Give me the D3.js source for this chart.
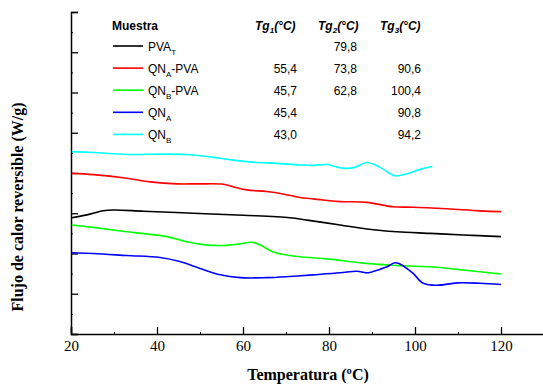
<!DOCTYPE html>
<html>
<head>
<meta charset="utf-8">
<script src="https://cdn.jsdelivr.net/npm/d3@7"></script>
<style>
  body { margin: 0; background: #fff; }
</style>
</head>
<body>
<script>
// curves: [temperature (ºC), reversible heat flow (offset units)]
const pvaT = [[20.2,2.89],[23.7,2.96],[27.5,3.06],[29.8,3.08],[36.8,3.05],[48.4,3.00],[60.1,2.95],[70.9,2.89],[74.9,2.83],[82.6,2.71],[88.8,2.61],[95.8,2.54],[103.5,2.50],[111.2,2.46],[120,2.42]];
const qnaPva = [[20.2,3.99],[25.2,3.96],[33,3.87],[38.4,3.78],[44.6,3.73],[50,3.73],[55.4,3.72],[57.7,3.66],[60.9,3.58],[65.5,3.54],[69.3,3.48],[73.3,3.39],[78.6,3.33],[82.6,3.29],[88.8,3.27],[94.9,3.16],[99.5,3.15],[107.4,3.11],[115.1,3.06],[120,3.04]];
const qnbPva = [[20.2,2.71],[25.2,2.65],[33,2.54],[42.3,2.42],[46.9,2.29],[50.8,2.22],[55.4,2.20],[59.3,2.24],[62,2.28],[64,2.21],[67,2.04],[70.9,1.95],[73.3,1.92],[80.2,1.86],[87.9,1.76],[95.8,1.70],[105.1,1.66],[111.2,1.59],[120,1.49]];
const qna = [[20.2,2.02],[25.2,2.00],[33,1.95],[40.7,1.90],[45.3,1.80],[50,1.63],[54.7,1.47],[59.3,1.40],[65.5,1.40],[70.9,1.43],[76.3,1.47],[82.6,1.52],[86.5,1.56],[88.8,1.52],[91.9,1.61],[93.5,1.67],[95.3,1.77],[96.5,1.74],[99.5,1.51],[101.9,1.26],[105.1,1.21],[109.8,1.27],[115.1,1.26],[120,1.23]];
const qnb = [[20.2,4.53],[25.2,4.51],[33,4.46],[40.7,4.47],[46.9,4.46],[52.3,4.40],[57.7,4.32],[62.3,4.27],[67.8,4.24],[73.3,4.20],[76.3,4.19],[79.8,4.21],[81.4,4.16],[83,4.12],[86,4.14],[88.8,4.26],[91.9,4.14],[95.3,3.93],[98.1,3.98],[101.2,4.09],[104,4.16]];

// legend table
const muestras = [["PVA", "T", ""], ["QN", "A", "-PVA"], ["QN", "B", "-PVA"], ["QN", "A", ""], ["QN", "B", ""]];
const tg1 = ["", "55,4", "45,7", "45,4", "43,0"];
const tg2 = ["79,8", "73,8", "62,8", "", ""];
const tg3 = ["", "90,6", "100,4", "90,8", "94,2"];
const colors = ["#000000", "#ff0000", "#00ff00", "#0000ff", "#00ffff"];
const series = [pvaT, qnaPva, qnbPva, qna, qnb];

const W = 543, H = 385;
const margin = { top: 12, left: 71, bottom: 51 };

const svg = d3.select("body").append("svg")
    .attr("width", W)
    .attr("height", H);

const x = d3.scaleLinear().domain([20, 130]).range([margin.left, 544]);
const y = d3.scaleLinear().domain([0, 8]).range([H - margin.bottom, margin.top]);

// x axis, ticks pointing inward
const xAxis = svg.append("g")
    .attr("transform", "translate(0," + y(0) + ")")
    .call(d3.axisBottom(x).tickValues([20, 40, 60, 80, 100, 120]).tickSize(-7).tickPadding(6));
xAxis.select(".domain").attr("stroke-width", 1.5);
xAxis.selectAll(".tick line").attr("stroke-width", 1.3);
xAxis.selectAll("text")
    .style("font-family", "'Liberation Serif', 'Times New Roman', serif")
    .style("font-size", "15px");

svg.append("g")
    .attr("transform", "translate(0," + y(0) + ")")
    .call(d3.axisBottom(x).tickValues([30, 50, 70, 90, 110, 130]).tickSize(-2).tickFormat(""))
    .select(".domain").remove();

// y axis, no labels
const yAxis = svg.append("g")
    .attr("transform", "translate(" + x(20) + ",0)")
    .call(d3.axisLeft(y).tickValues(d3.range(0, 9)).tickSize(-7).tickFormat(""));
yAxis.select(".domain").attr("stroke-width", 1.5);
yAxis.selectAll(".tick line").attr("stroke-width", 1.3);

svg.append("g")
    .attr("transform", "translate(" + x(20) + ",0)")
    .call(d3.axisLeft(y).tickValues(d3.range(0.5, 8, 1)).tickSize(-2).tickFormat(""))
    .select(".domain").remove();

// axis titles
svg.append("text")
    .attr("x", 308)
    .attr("y", 380)
    .attr("text-anchor", "middle")
    .style("font-family", "'Liberation Serif', 'Times New Roman', serif")
    .style("font-size", "16px")
    .style("font-weight", "bold")
    .text("Temperatura (ºC)");

svg.append("text")
    .attr("transform", "translate(23,207) rotate(-90)")
    .attr("text-anchor", "middle")
    .style("font-family", "'Liberation Serif', 'Times New Roman', serif")
    .style("font-size", "16px")
    .style("font-weight", "bold")
    .text("Flujo de calor reversible (W/g)");

// curves
const line = d3.line()
    .x(d => x(d[0]))
    .y(d => y(d[1]))
    .curve(d3.curveCatmullRom.alpha(0.5));

svg.selectAll("path.curve")
    .data(series)
    .enter().append("path")
    .attr("class", "curve")
    .attr("d", line)
    .attr("fill", "none")
    .attr("stroke", (d, i) => colors[i])
    .attr("stroke-width", 1.6);

// legend table
const leg = svg.append("g")
    .style("font-family", "'Liberation Sans', Arial, sans-serif")
    .style("font-size", "12px");

leg.append("text")
    .attr("x", 112).attr("y", 30)
    .style("font-weight", "bold")
    .text("Muestra");

[["1", 255], ["2", 318], ["3", 380]].forEach(function(h) {
    const t = leg.append("text")
        .attr("x", h[1]).attr("y", 30)
        .style("font-weight", "bold")
        .style("font-style", "italic");
    t.append("tspan").text("Tg");
    t.append("tspan").attr("dy", 3).style("font-size", "8px").text(h[0]);
    t.append("tspan").attr("dy", -3).text("(°C)");
});

const rowY = i => 46 + i * 22.1;

muestras.forEach(function(m, i) {
    leg.append("line")
        .attr("x1", 113).attr("x2", 143)
        .attr("y1", rowY(i)).attr("y2", rowY(i))
        .attr("stroke", colors[i])
        .attr("stroke-width", 1.6);
    const t = leg.append("text")
        .attr("x", 148).attr("y", rowY(i) + 4.5);
    t.append("tspan").text(m[0]);
    t.append("tspan").attr("dy", 4).style("font-size", "8px").text(m[1]);
    if (m[2]) t.append("tspan").attr("dy", -4).text(m[2]);

    [[tg1, 297], [tg2, 357], [tg3, 421]].forEach(function(c) {
        if (c[0][i]) {
            leg.append("text")
                .attr("x", c[1]).attr("y", rowY(i) + 4.5)
                .attr("text-anchor", "end")
                .text(c[0][i]);
        }
    });
});
</script>
</body>
</html>
